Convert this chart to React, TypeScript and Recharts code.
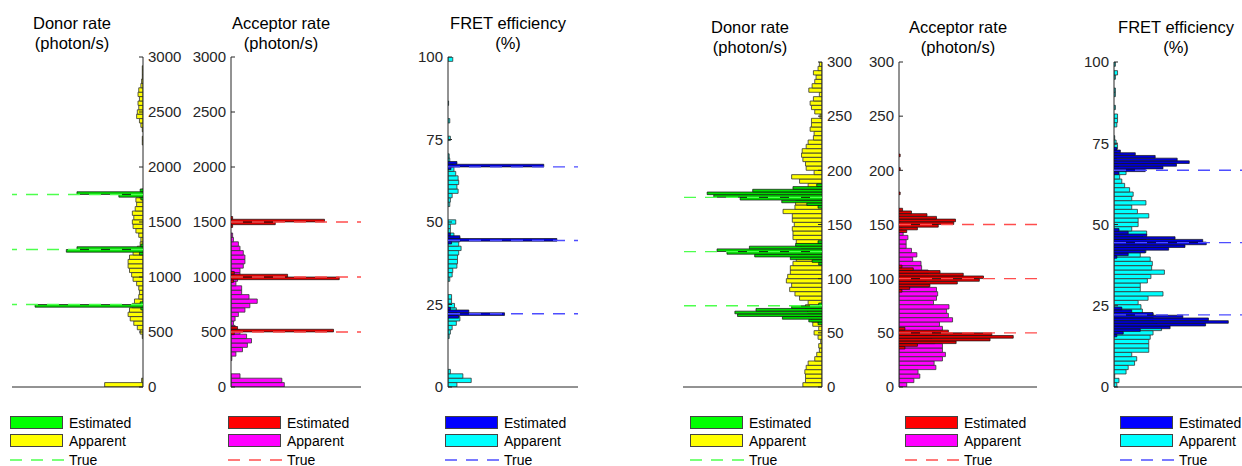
import React from 'react';
import { BarChart, Bar, XAxis, YAxis, ReferenceLine } from 'recharts';

const FONT = '"Liberation Sans", Arial, Helvetica, sans-serif';
const INK = '#262626';

// bin widths: apparent histograms use 75 bins, estimated ones 120 bins
const RATE_L_BIN = 40;
const RATE_L_EST_BIN = 25;
const RATE_R_BIN = 4;
const RATE_R_EST_BIN = 2.5;
const FRET_BIN = 4 / 3;
const FRET_EST_BIN = 5 / 6;

const RATE_L_TICKS = [0, 500, 1000, 1500, 2000, 2500, 3000];
const RATE_R_TICKS = [0, 50, 100, 150, 200, 250, 300];
const FRET_TICKS = [0, 25, 50, 75, 100];

// ---- left group ----
const donorAppL = [
  54, 2, 0, 0, 0, 0, 0, 0, 0, 0, 0, 1, 4, 8, 13, 18, 21, 19, 15, 12,
  6, 5, 6, 9, 14, 16, 19, 21, 21, 19, 14, 8, 4, 3, 6, 10, 14, 15, 13, 15,
  11, 9, 10, 5, 2, 0, 0, 0, 0, 0, 0, 0, 0, 0, 0, 1, 1, 0, 1, 3,
  5, 9, 8, 6, 7, 5, 7, 6, 3, 2, 1, 1, 1, 0, 0,
];
const donorEstL: [number, number][] = [
  [712.5, 3], [737.5, 152], [762.5, 4],
  [1212.5, 5], [1237.5, 108], [1262.5, 93], [1287.5, 3],
  [1712.5, 3], [1737.5, 34], [1762.5, 93], [1787.5, 4],
];
const donorTrueL = [750, 1250, 1750];

const acceptorAppL = [
  65, 62, 11, 0, 0, 0, 1, 6, 14, 20, 25, 19, 11, 5, 3, 5, 9, 17, 23, 32,
  22, 13, 13, 6, 8, 11, 11, 15, 17, 17, 15, 11, 9, 3, 2, 0, 0, 0, 0, 0,
  0, 0, 0, 0, 0, 0, 0, 0, 0, 0, 0, 0, 0, 0, 0, 0, 0, 0, 0, 0,
  0, 0, 0, 0, 0, 0, 0, 0, 0, 0, 0, 0, 0, 0, 0,
];
const acceptorEstL: [number, number][] = [
  [487.5, 4], [512.5, 125], [537.5, 8],
  [962.5, 3], [987.5, 132], [1012.5, 69], [1037.5, 4],
  [1462.5, 2], [1487.5, 54], [1512.5, 114], [1537.5, 2],
];
const acceptorTrueL = [500, 1000, 1500];

const fretAppL = [
  15, 39, 25, 4, 0, 0, 0, 0, 0, 0, 0, 2, 4, 7, 14, 20, 15, 14, 11, 6,
  6, 0, 0, 0, 3, 7, 8, 15, 16, 16, 18, 22, 18, 20, 10, 4, 4, 13, 0, 0,
  0, 3, 4, 7, 17, 15, 18, 17, 13, 10, 8, 3, 2, 0, 0, 0, 4, 0, 0, 0,
  3, 0, 0, 0, 1, 0, 0, 0, 0, 0, 0, 0, 0, 0, 8,
];
const fretEstL: [number, number][] = [
  [21.25, 18], [22.08, 95], [22.92, 35], [23.75, 4],
  [43.75, 6], [44.58, 183], [45.42, 20], [46.25, 4],
  [66.25, 5], [67.08, 161], [67.92, 15],
];
const fretTrue = [22.2, 44.4, 66.7];

// ---- right group ----
const donorAppR = [
  29, 25, 25, 26, 24, 21, 11, 8, 4, 5, 2, 6, 12, 5, 14, 16, 20, 22, 25, 21,
  34, 41, 49, 46, 54, 52, 48, 48, 44, 39, 35, 30, 32, 39, 44, 44, 45, 42, 45, 45,
  59, 41, 40, 38, 35, 30, 21, 34, 46, 12, 24, 25, 29, 31, 30, 24, 21, 13, 12, 18,
  16, 16, 3, 11, 16, 18, 13, 4, 20, 15, 11, 9, 13, 6, 4,
];
const donorEstR: [number, number][] = [
  [58.75, 6], [61.25, 20], [63.75, 60], [66.25, 128], [68.75, 132], [71.25, 100], [73.75, 46], [76.25, 5],
  [113.75, 5], [116.25, 15], [118.75, 48], [121.25, 102], [123.75, 144], [126.25, 159], [128.75, 110], [131.25, 40], [133.75, 6],
  [166.25, 6], [168.75, 23], [171.25, 61], [173.75, 124], [176.25, 164], [178.75, 174], [181.25, 105], [183.75, 44], [186.25, 8],
];
const donorTrueR = [75, 125, 175];

const acceptorAppR = [
  13, 25, 35, 32, 62, 59, 73, 78, 73, 73, 60, 55, 60, 73, 68, 90, 83, 80, 84, 58,
  63, 65, 63, 50, 45, 45, 49, 38, 37, 23, 30, 21, 12, 12, 15, 7, 5, 3, 2, 1,
  0, 0, 0, 0, 0, 0, 0, 0, 0, 0, 0, 0, 0, 0, 0, 0, 0, 0, 0, 0,
  0, 0, 0, 0, 0, 0, 0, 0, 0, 0, 0, 0, 0, 0, 0,
];
const acceptorEstR: [number, number][] = [
  [36.25, 10], [38.75, 31], [41.25, 96], [43.75, 153], [46.25, 192], [48.75, 156], [51.25, 83], [53.75, 10],
  [88.75, 5], [91.25, 18], [93.75, 52], [96.25, 98], [98.75, 135], [101.25, 142], [103.75, 108], [106.25, 69], [108.75, 24], [111.25, 5],
  [143.75, 13], [146.25, 31], [148.75, 66], [151.25, 92], [153.75, 95], [156.25, 63], [158.75, 47], [161.25, 21], [163.75, 6],
  [178.75, 2], [201.25, 2], [213.75, 2],
];
const acceptorTrueR = [50, 100, 150];

const fretAppR = [
  4, 7, 1, 17, 20, 29, 32, 25, 49, 49, 49, 51, 55, 67, 60, 55, 55, 40, 38, 34,
  48, 69, 37, 37, 47, 52, 71, 53, 54, 51, 37, 45, 45, 45, 40, 46, 25, 34, 34, 49,
  33, 25, 45, 25, 27, 22, 15, 11, 8, 17, 6, 4, 3, 3, 4, 5, 3, 1, 0, 0,
  4, 5, 5, 0, 2, 0, 0, 2, 2, 0, 0, 2, 5, 0, 2,
];
const fretEstR: [number, number][] = [
  [15.83, 4], [16.67, 13], [17.5, 37], [18.33, 79], [19.17, 129], [20, 161], [20.83, 133], [21.67, 97], [22.5, 55], [23.33, 25], [24.17, 11],
  [40, 4], [40.83, 20], [41.67, 44], [42.5, 77], [43.33, 100], [44.17, 130], [45, 125], [45.83, 86], [46.67, 46], [47.5, 20], [48.33, 7],
  [65.83, 7], [66.67, 44], [67.5, 69], [68.33, 88], [69.17, 106], [70, 89], [70.83, 58], [71.67, 30], [72.5, 9], [73.33, 4],
];

type Row = { y: number; v: number };
const binRows = (counts: number[], bin: number): Row[] =>
  counts.map((v, i) => ({ y: (i + 0.5) * bin, v }));
const pairRows = (list: [number, number][]): Row[] => list.map(([y, v]) => ({ y, v }));

const COLORS = {
  green: { est: '#00dd00', app: '#ffff00', legEst: '#00ff00', tru: '#4dff4d' },
  red: { est: '#e00000', app: '#ff00ff', legEst: '#ff0000', tru: '#ff4d4d' },
  blue: { est: '#0000dd', app: '#00ffff', legEst: '#0000ff', tru: '#4d4dff' },
};

const LABEL_W = 45;
const PAD = 10;

type PanelProps = {
  left: number;
  top: number;
  plotW: number;
  plotH: number;
  side: 'left' | 'right';
  yMax: number;
  yTicks: number[];
  xMax: number;
  xTicks: number[];
  app: Row[];
  appBin: number;
  est: Row[];
  estBin: number;
  truth: number[];
  palette: { est: string; app: string; tru: string };
};

function Panel(p: PanelProps) {
  const w = p.plotW + LABEL_W;
  const h = p.plotH + PAD * 2 + 1;
  const chartLeft = p.side === 'left' ? p.left - LABEL_W : p.left;
  const pxPerUnit = p.plotH / p.yMax;

  const layer = (data: Row[], showAxes: boolean, children: React.ReactNode) => (
    <div style={{ position: 'absolute', left: chartLeft, top: p.top - PAD }}>
      <BarChart
        width={w}
        height={h}
        layout="vertical"
        data={data}
        margin={{ top: PAD, right: 0, bottom: PAD, left: 0 }}
      >
        <XAxis
          type="number"
          domain={[0, p.xMax]}
          ticks={p.xTicks}
          allowDataOverflow
          reversed={p.side === 'right'}
          height={1}
          tick={false}
          tickSize={-4}
          axisLine={showAxes ? { stroke: INK } : false}
          tickLine={showAxes ? { stroke: INK } : false}
        />
        <YAxis
          type="number"
          dataKey="y"
          orientation={p.side}
          reversed
          width={LABEL_W}
          domain={[0, p.yMax]}
          ticks={p.yTicks}
          interval={0}
          allowDataOverflow
          tickSize={-4}
          tickMargin={9}
          tick={showAxes ? { fontSize: 15, fill: INK, fontFamily: FONT } : false}
          axisLine={showAxes ? { stroke: INK } : false}
          tickLine={showAxes ? { stroke: INK } : false}
        />
        {children}
      </BarChart>
    </div>
  );

  return (
    <>
      {layer(
        p.app,
        true,
        <Bar
          dataKey="v"
          fill={p.palette.app}
          stroke="#333"
          strokeWidth={0.8}
          barSize={p.appBin * pxPerUnit * 0.99}
          isAnimationActive={false}
        />
      )}
      {layer(
        p.est,
        false,
        [
          <Bar
            key="est"
            dataKey="v"
            fill={p.palette.est}
            stroke="#111"
            strokeWidth={0.7}
            barSize={p.estBin * pxPerUnit * 0.97}
            isAnimationActive={false}
          />,
          ...p.truth.map((t) => (
            <ReferenceLine
              key={t}
              y={t}
              stroke={p.palette.tru}
              strokeWidth={1.3}
              strokeDasharray="12 9"
            />
          )),
        ]
      )}
    </>
  );
}

function Title({ cx, top, lines }: { cx: number; top: number; lines: string[] }) {
  return (
    <div
      style={{
        position: 'absolute',
        left: cx - 100,
        top,
        width: 200,
        textAlign: 'center',
        fontSize: 16.5,
        lineHeight: '20.5px',
        color: '#000',
      }}
    >
      {lines.map((l) => (
        <div key={l}>{l}</div>
      ))}
    </div>
  );
}

function LegendBox({ left, palette }: { left: number; palette: { app: string; legEst: string; tru: string } }) {
  const swatch = (top: number, color: string) => (
    <div
      style={{
        position: 'absolute',
        left,
        top,
        width: 53,
        height: 13,
        background: color,
        border: '1px solid #444',
        boxSizing: 'border-box',
      }}
    />
  );
  const label = (top: number, text: string) => (
    <div style={{ position: 'absolute', left: left + 59, top, fontSize: 14, lineHeight: '16px', color: '#000' }}>
      {text}
    </div>
  );
  return (
    <>
      {swatch(416, palette.legEst)}
      {label(414.5, 'Estimated')}
      {swatch(434, palette.app)}
      {label(432.5, 'Apparent')}
      <svg style={{ position: 'absolute', left, top: 458 }} width={54} height={4}>
        <line x1={0} y1={2} x2={54} y2={2} stroke={palette.tru} strokeWidth={1.3} strokeDasharray="12 9" />
      </svg>
      {label(451.5, 'True')}
    </>
  );
}

export default function App() {
  return (
    <div
      style={{
        position: 'absolute',
        left: 0,
        top: 0,
        width: 1242,
        height: 466,
        overflow: 'hidden',
        background: '#fff',
        fontFamily: FONT,
      }}
    >
      <Title cx={72} top={12.5} lines={['Donor rate', '(photon/s)']} />
      <Title cx={281} top={12.5} lines={['Acceptor rate', '(photon/s)']} />
      <Title cx={508} top={12.5} lines={['FRET efficiency', '(%)']} />
      <Title cx={750} top={16.5} lines={['Donor rate', '(photon/s)']} />
      <Title cx={958} top={16.5} lines={['Acceptor rate', '(photon/s)']} />
      <Title cx={1176} top={16.5} lines={['FRET efficiency', '(%)']} />

      <Panel
        left={12} top={57} plotW={131} plotH={330} side="right"
        yMax={3000} yTicks={RATE_L_TICKS} xMax={184.5} xTicks={[0, 100]}
        app={binRows(donorAppL, RATE_L_BIN)} appBin={RATE_L_BIN}
        est={pairRows(donorEstL)} estBin={RATE_L_EST_BIN}
        truth={donorTrueL} palette={COLORS.green}
      />
      <Panel
        left={231} top={57} plotW={130} plotH={330} side="left"
        yMax={3000} yTicks={RATE_L_TICKS} xMax={158.5} xTicks={[0, 100]}
        app={binRows(acceptorAppL, RATE_L_BIN)} appBin={RATE_L_BIN}
        est={pairRows(acceptorEstL)} estBin={RATE_L_EST_BIN}
        truth={acceptorTrueL} palette={COLORS.red}
      />
      <Panel
        left={448} top={57} plotW={130} plotH={330} side="left"
        yMax={100} yTicks={FRET_TICKS} xMax={218.5} xTicks={[0, 100, 200]}
        app={binRows(fretAppL, FRET_BIN)} appBin={FRET_BIN}
        est={pairRows(fretEstL)} estBin={FRET_EST_BIN}
        truth={fretTrue} palette={COLORS.blue}
      />
      <Panel
        left={683} top={62} plotW={139} plotH={325} side="right"
        yMax={300} yTicks={RATE_R_TICKS} xMax={210.6} xTicks={[0, 100, 200]}
        app={binRows(donorAppR, RATE_R_BIN)} appBin={RATE_R_BIN}
        est={pairRows(donorEstR)} estBin={RATE_R_EST_BIN}
        truth={donorTrueR} palette={COLORS.green}
      />
      <Panel
        left={899} top={62} plotW={138} plotH={325} side="left"
        yMax={300} yTicks={RATE_R_TICKS} xMax={231.9} xTicks={[0, 100, 200]}
        app={binRows(acceptorAppR, RATE_R_BIN)} appBin={RATE_R_BIN}
        est={pairRows(acceptorEstR)} estBin={RATE_R_EST_BIN}
        truth={acceptorTrueR} palette={COLORS.red}
      />
      <Panel
        left={1114} top={62} plotW={130} plotH={325} side="left"
        yMax={100} yTicks={FRET_TICKS} xMax={183.1} xTicks={[0, 100]}
        app={binRows(fretAppR, FRET_BIN)} appBin={FRET_BIN}
        est={pairRows(fretEstR)} estBin={FRET_EST_BIN}
        truth={fretTrue} palette={COLORS.blue}
      />

      <LegendBox left={10} palette={COLORS.green} />
      <LegendBox left={228} palette={COLORS.red} />
      <LegendBox left={445} palette={COLORS.blue} />
      <LegendBox left={690} palette={COLORS.green} />
      <LegendBox left={905} palette={COLORS.red} />
      <LegendBox left={1120} palette={COLORS.blue} />
    </div>
  );
}
